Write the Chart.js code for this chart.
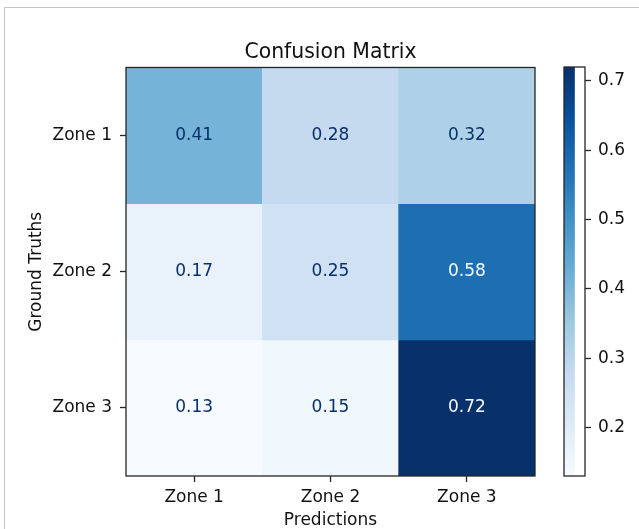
<!DOCTYPE html>
<html>
<head>
<meta charset="utf-8">
<title>Confusion Matrix</title>
<script src="https://cdn.jsdelivr.net/npm/chart.js@4.4.1/dist/chart.umd.min.js"></script>
<style>
  html, body { margin: 0; padding: 0; background: #ffffff; }
  #page { position: relative; width: 639px; height: 529px; overflow: hidden; background: #ffffff; }
  #edge { position: absolute; left: 4px; top: 7px; right: 0; bottom: 0;
          border-left: 1px solid #c4c4c4; border-top: 1px solid #c4c4c4; }
  canvas { position: absolute; top: 0; }
  #matrix { left: 0; }
  #colorbar { left: 540px; }
</style>
</head>
<body>
<div id="page">
  <div id="edge"></div>
  <canvas id="matrix" width="639" height="529"></canvas>
  <canvas id="colorbar" width="99" height="529"></canvas>
</div>
<script>
// Class names along each axis
const predictionLabels = ['Zone 1', 'Zone 2', 'Zone 3'];
const truthLabels = ['Zone 1', 'Zone 2', 'Zone 3'];

// Normalised confusion rates, one array per ground-truth row
const zone1Row = [0.41, 0.28, 0.32];
const zone2Row = [0.17, 0.25, 0.58];
const zone3Row = [0.13, 0.15, 0.72];
const matrixRows = [zone1Row, zone2Row, zone3Row];

// Colour bar tick values
const colorbarTicks = [0.2, 0.3, 0.4, 0.5, 0.6, 0.7];

// "Blues" sequential colour map stops
const bluesStops = ['#f7fbff', '#deebf7', '#c6dbef', '#9ecae1', '#6baed6',
                    '#4292c6', '#2171b5', '#08519c', '#08306b'];

const FONT = "'DejaVu Sans', 'Liberation Sans', sans-serif";
const INK = '#111111';
Chart.defaults.font.family = FONT;
Chart.defaults.color = INK;

const allValues = matrixRows.flat();
const vmin = Math.min(...allValues);
const vmax = Math.max(...allValues);
const threshold = (vmin + vmax) / 2;

function hexToRgb(h) {
  return [1, 3, 5].map(i => parseInt(h.slice(i, i + 2), 16));
}
function blues(t) {
  t = Math.max(0, Math.min(1, t));
  const pos = t * (bluesStops.length - 1);
  const i = Math.min(Math.floor(pos), bluesStops.length - 2);
  const f = pos - i;
  const a = hexToRgb(bluesStops[i]);
  const b = hexToRgb(bluesStops[i + 1]);
  const c = a.map((v, k) => Math.round(v + (b[k] - v) * f));
  return `rgb(${c[0]}, ${c[1]}, ${c[2]})`;
}
const norm = v => (v - vmin) / (vmax - vmin);

// One floating-bar dataset per ground-truth row; each bar spans its row band
const datasets = truthLabels.map((label, r) => ({
  label,
  values: matrixRows[r],
  data: matrixRows[r].map(() => [r - 0.5, r + 0.5]),
  backgroundColor: matrixRows[r].map(v => blues(norm(v))),
  borderWidth: 0,
  barPercentage: 1,
  categoryPercentage: 1
}));

// Writes each rate in the middle of its cell
const cellText = {
  id: 'cellText',
  afterDatasetsDraw(chart) {
    const ctx = chart.ctx;
    ctx.save();
    ctx.font = `17px ${FONT}`;
    ctx.textAlign = 'center';
    ctx.textBaseline = 'middle';
    chart.data.datasets.forEach((ds, r) => {
      chart.getDatasetMeta(r).data.forEach((bar, c) => {
        const v = ds.values[c];
        const p = bar.getCenterPoint();
        ctx.fillStyle = v > threshold ? bluesStops[0] : bluesStops[bluesStops.length - 1];
        ctx.fillText(v.toFixed(2), p.x, p.y);
      });
    });
    ctx.restore();
  }
};

// Dark frame around the plotting area
const frame = {
  id: 'frame',
  afterDatasetsDraw(chart) {
    const a = chart.chartArea;
    const ctx = chart.ctx;
    ctx.save();
    ctx.strokeStyle = '#262626';
    ctx.lineWidth = 1.3;
    ctx.strokeRect(a.left, a.top, a.right - a.left, a.bottom - a.top);
    ctx.restore();
  }
};

new Chart(document.getElementById('matrix'), {
  type: 'bar',
  data: { labels: predictionLabels, datasets },
  plugins: [cellText, frame],
  options: {
    responsive: false,
    animation: false,
    events: [],
    layout: { padding: { top: 40, right: 104, bottom: 0, left: 0 } },
    plugins: {
      legend: { display: false },
      tooltip: { enabled: false },
      title: {
        display: true,
        fullSize: false,
        text: 'Confusion Matrix',
        color: INK,
        font: { size: 20.4, weight: 'normal', lineHeight: 1.2 },
        padding: { top: 0, bottom: 3 }
      }
    },
    scales: {
      x: {
        type: 'category',
        stacked: true,
        offset: true,
        grid: { offset: false, drawOnChartArea: false, drawTicks: true,
                tickLength: 6, tickWidth: 1.3, tickColor: '#262626' },
        border: { display: false },
        ticks: { font: { size: 17 }, color: INK, padding: 5 },
        title: { display: true, text: 'Predictions', color: INK,
                 font: { size: 17, lineHeight: 1 }, padding: { top: 0, bottom: 0 } },
        afterFit(scale) { scale.height = 53; }
      },
      y: {
        type: 'linear',
        stacked: false,
        reverse: true,
        min: -0.5,
        max: 2.5,
        afterBuildTicks(scale) { scale.ticks = truthLabels.map((_, i) => ({ value: i })); },
        grid: { drawOnChartArea: false, drawTicks: true,
                tickLength: 6, tickWidth: 1.3, tickColor: '#262626' },
        border: { display: false },
        ticks: { font: { size: 17 }, color: INK, padding: 8,
                 callback: v => truthLabels[v] },
        title: { display: true, text: 'Ground Truths', color: INK,
                 font: { size: 17, lineHeight: 1 }, padding: { top: 28, bottom: 0 } },
        afterFit(scale) { scale.width = 126; }
      }
    }
  }
});

// Colour bar: a single floating bar from vmin to vmax filled with the colour map
new Chart(document.getElementById('colorbar'), {
  type: 'bar',
  data: {
    labels: [''],
    datasets: [{
      data: [[vmin, vmax]],
      borderWidth: 0,
      barPercentage: 1,
      categoryPercentage: 1,
      backgroundColor(context) {
        const area = context.chart.chartArea;
        if (!area) return bluesStops[4];
        const g = context.chart.ctx.createLinearGradient(0, area.bottom, 0, area.top);
        bluesStops.forEach((c, i) => g.addColorStop(i / (bluesStops.length - 1), c));
        return g;
      }
    }]
  },
  plugins: [frame],
  options: {
    responsive: false,
    animation: false,
    events: [],
    layout: { padding: { top: 67, right: 0, bottom: 53, left: 24 } },
    plugins: { legend: { display: false }, tooltip: { enabled: false } },
    scales: {
      x: { display: false, offset: false },
      y: {
        position: 'right',
        min: vmin,
        max: vmax,
        afterBuildTicks(scale) { scale.ticks = colorbarTicks.map(v => ({ value: v })); },
        grid: { drawOnChartArea: false, drawTicks: true,
                tickLength: 6, tickWidth: 1.3, tickColor: '#262626' },
        border: { display: false },
        ticks: { font: { size: 17 }, color: INK, padding: 7,
                 callback: v => v.toFixed(1) },
        afterFit(scale) { scale.width = 54; }
      }
    }
  }
});
</script>
</body>
</html>
